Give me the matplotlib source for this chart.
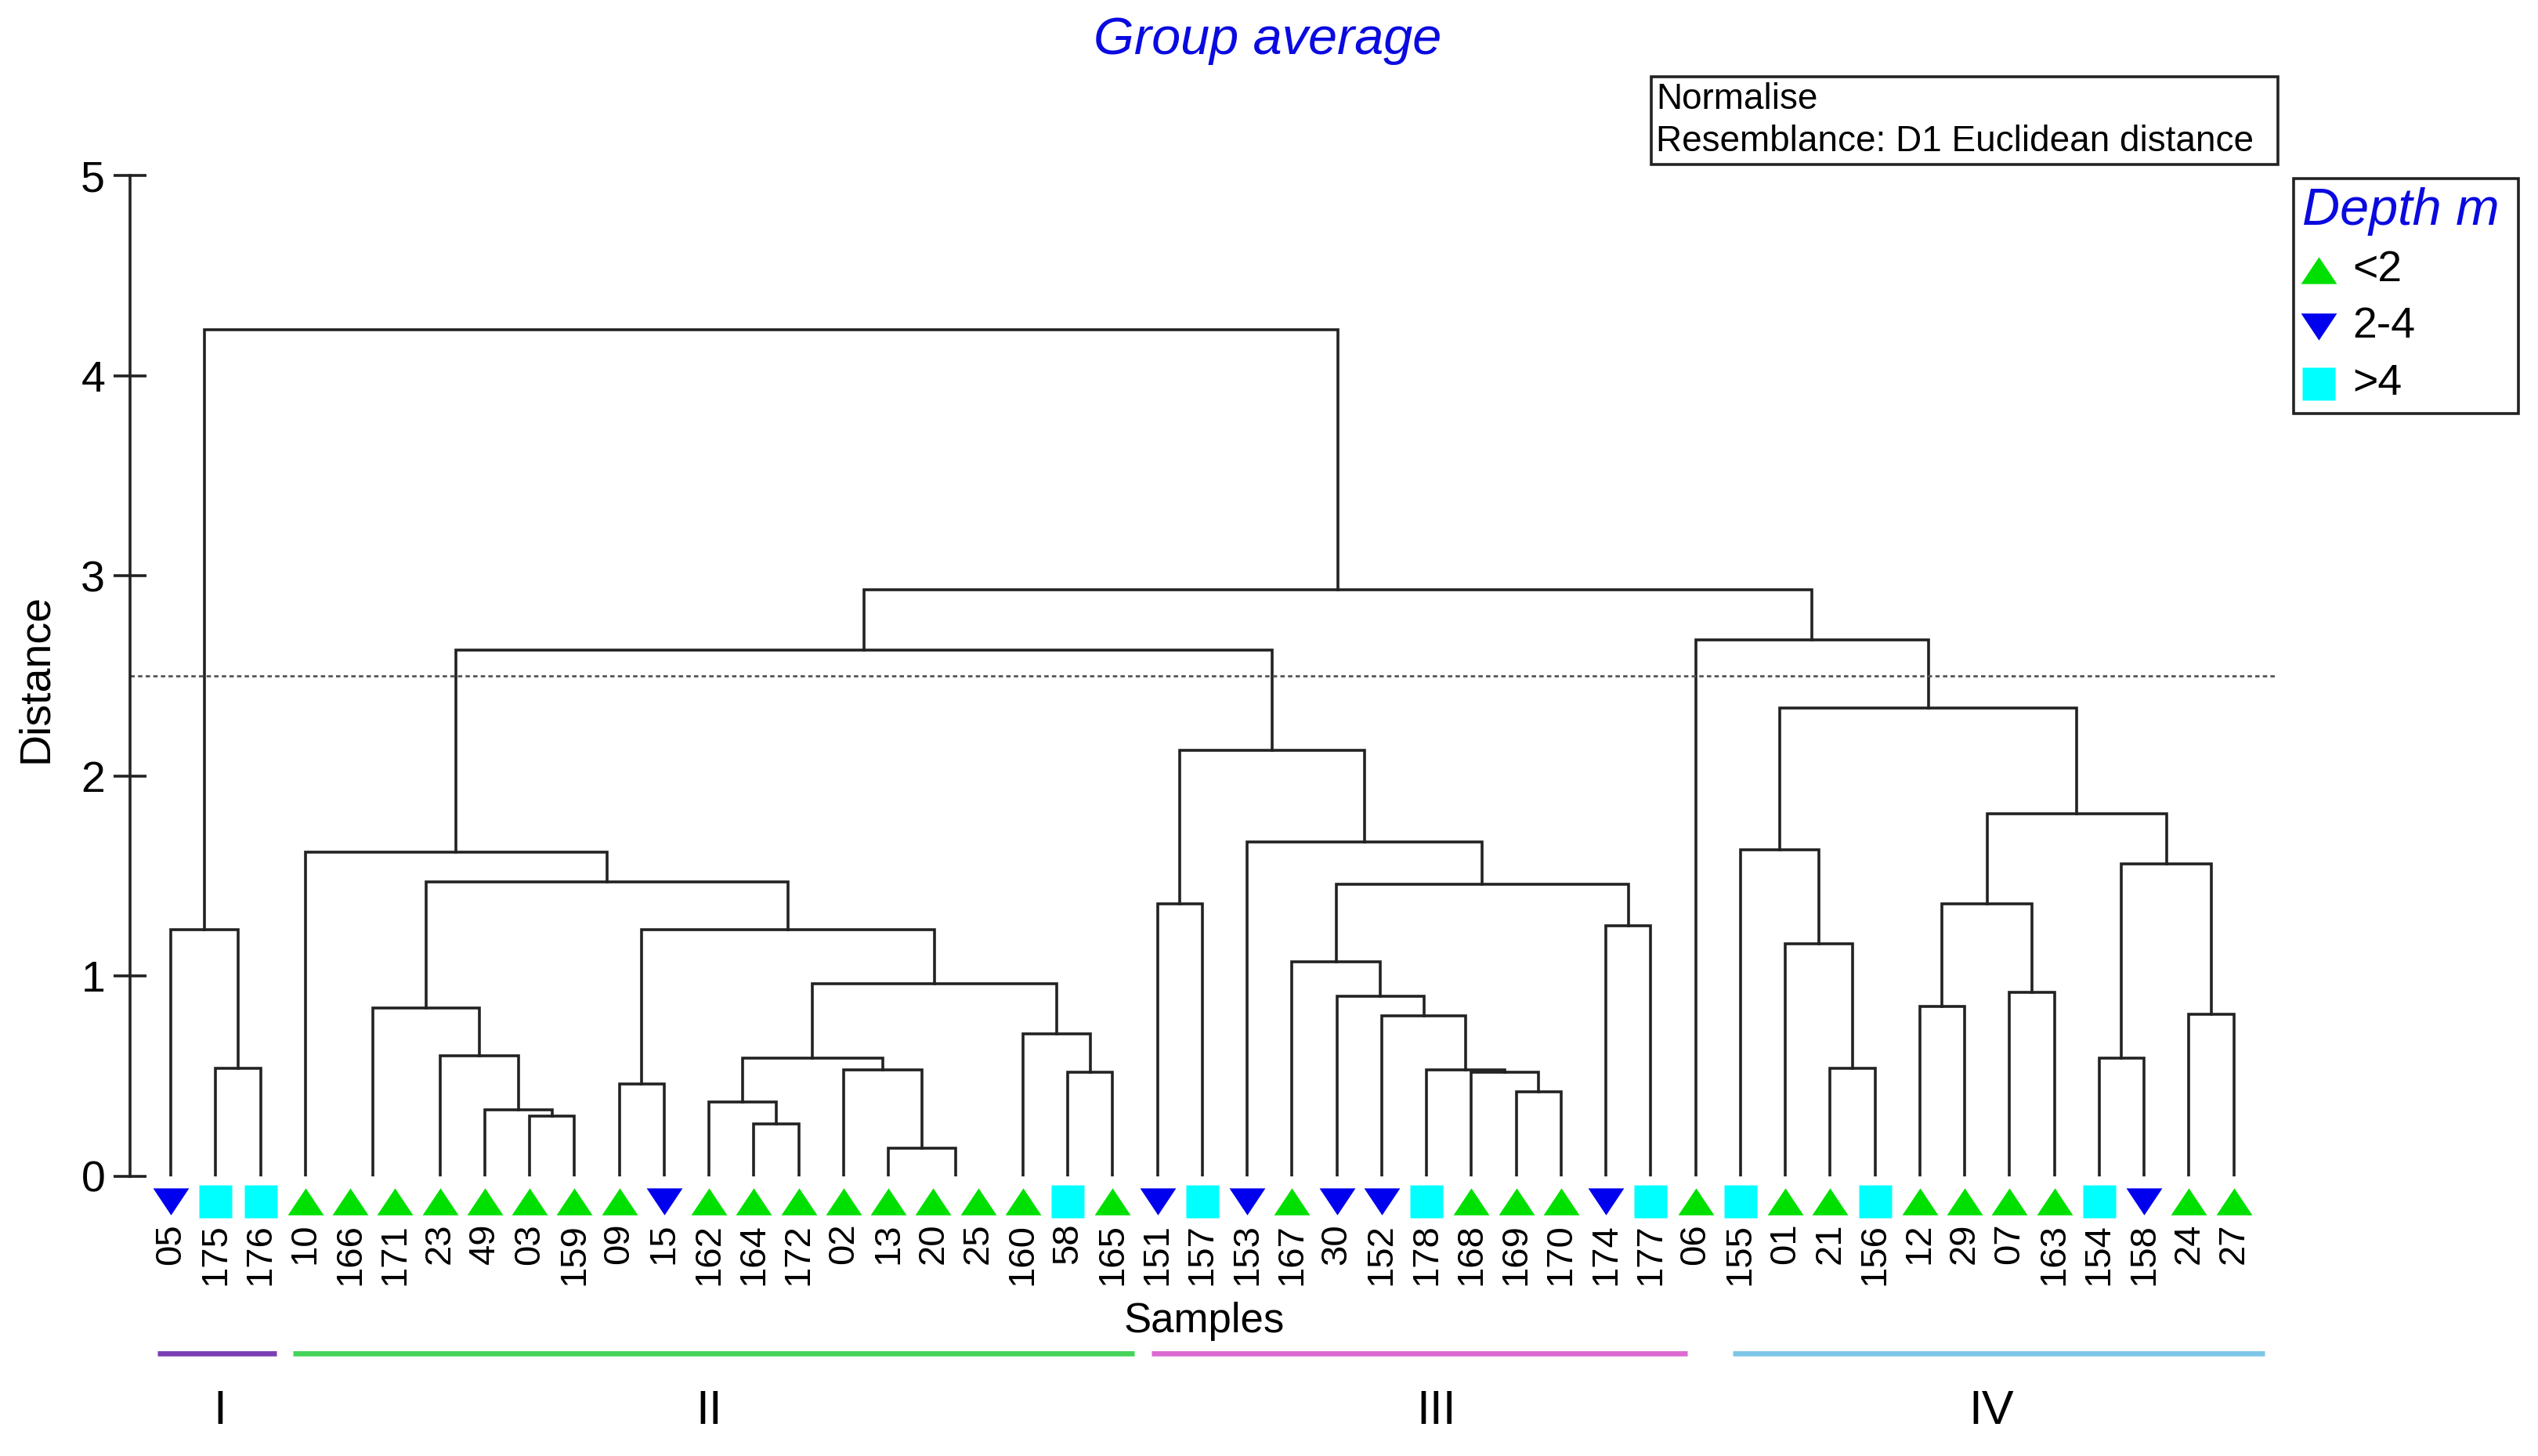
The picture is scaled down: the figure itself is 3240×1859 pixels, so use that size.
import matplotlib
matplotlib.use('Agg')
import matplotlib.pyplot as plt
from matplotlib.path import Path
from matplotlib.patches import Rectangle

plt.rcParams['font.family'] = ['Liberation Sans', 'DejaVu Sans']

# sample order along the dendrogram and their depth class
leaves = ['05', '175', '176', '10', '166', '171', '23', '49', '03', '159', '09', '15',
          '162', '164', '172', '02', '13', '20', '25', '160', '58', '165', '151', '157',
          '153', '167', '30', '152', '178', '168', '169', '170', '174', '177', '06', '155',
          '01', '21', '156', '12', '29', '07', '163', '154', '158', '24', '27']
depths = ['2-4', '>4', '>4', '<2', '<2', '<2', '<2', '<2', '<2', '<2', '<2', '2-4',
          '<2', '<2', '<2', '<2', '<2', '<2', '<2', '<2', '>4', '<2', '2-4', '>4',
          '2-4', '<2', '2-4', '2-4', '>4', '<2', '<2', '<2', '2-4', '>4', '<2', '>4',
          '<2', '<2', '>4', '<2', '<2', '<2', '<2', '>4', '2-4', '<2', '<2']

# merges: (left, right, distance); str = sample, int = earlier merge
merges = [
    ('175', '176', 0.54),   # 0
    ('05', 0, 1.23),        # 1
    ('166', '171', 0.0),    # 2
    ('03', '159', 0.30),    # 3
    ('49', 3, 0.33),        # 4
    ('23', 4, 0.60),        # 5
    (2, 5, 0.84),           # 6
    ('09', '15', 0.46),     # 7
    ('164', '172', 0.26),   # 8
    ('162', 8, 0.37),       # 9
    ('20', '25', 0.0),      # 10
    ('13', 10, 0.14),       # 11
    ('02', 11, 0.53),       # 12
    (9, 12, 0.59),          # 13
    ('58', '165', 0.52),    # 14
    ('160', 14, 0.71),      # 15
    (13, 15, 0.96),         # 16
    (7, 16, 1.23),          # 17
    (6, 17, 1.47),          # 18
    ('10', 18, 1.62),       # 19
    ('151', '157', 1.36),   # 20
    ('169', '170', 0.42),   # 21
    ('168', 21, 0.52),      # 22
    ('178', 22, 0.53),      # 23
    ('152', 23, 0.80),      # 24
    ('30', 24, 0.90),       # 25
    ('167', 25, 1.07),      # 26
    ('174', '177', 1.25),   # 27
    (26, 27, 1.46),         # 28
    ('153', 28, 1.67),      # 29
    (20, 29, 2.13),         # 30
    (19, 30, 2.63),         # 31
    ('21', '156', 0.54),    # 32
    ('01', 32, 1.16),       # 33
    ('155', 33, 1.63),      # 34
    ('12', '29', 0.85),     # 35
    ('07', '163', 0.92),    # 36
    (35, 36, 1.36),         # 37
    ('154', '158', 0.59),   # 38
    ('24', '27', 0.81),     # 39
    (38, 39, 1.56),         # 40
    (37, 40, 1.81),         # 41
    (34, 41, 2.34),         # 42
    ('06', 42, 2.68),       # 43
    (31, 43, 2.93),         # 44
    (1, 44, 4.23),          # 45
]
cut_level = 2.5
group_names = ['I', 'II', 'III', 'IV']
group_colors = ['#7b3fb3', '#45d35a', '#db6ad2', '#7ec6e8']

depth_classes = ['<2', '2-4', '>4']
depth_colors = {'<2': '#00e000', '2-4': '#0000ee', '>4': '#00ffff'}
up_tri = Path([(-1, -0.75), (1, -0.75), (0, 0.75), (-1, -0.75)])
down_tri = Path([(-1, 0.75), (1, 0.75), (0, -0.75), (-1, 0.75)])
depth_markers = {'<2': (up_tri, 16.5), '2-4': (down_tri, 16.5), '>4': ('s', 15)}

W, H = 1560, 895   # layout units
fig = plt.figure(figsize=(16.2, 9.295), dpi=200)

ax = fig.add_axes([80 / W, 1 - 723 / H, 1320 / W, 615 / H])
step = (1373 - 105) / 46
ax.set_xlim((80 - 105) / step, (1400 - 105) / step)
ax.set_ylim(0, 5)

leaf_x = {lab: i for i, lab in enumerate(leaves)}
node_x, node_h = {}, {}


def pos(n):
    if isinstance(n, str):
        return leaf_x[n], 0.0
    return node_x[n], node_h[n]


for k, (a, b, h) in enumerate(merges):
    xa, ha = pos(a)
    xb, hb = pos(b)
    if h > 0:
        ax.plot([xa, xa, xb, xb], [ha, h, h, hb], color='#222222', lw=1.3,
                solid_joinstyle='miter')
    node_x[k] = (xa + xb) / 2
    node_h[k] = h

ax.axhline(cut_level, color='#555555', lw=1.0, dashes=(2, 1.5))

# depth symbols and sample labels
for cls in depth_classes:
    xs = [i for i, d in enumerate(depths) if d == cls]
    m, ms = depth_markers[cls]
    ax.plot(xs, [-0.125] * len(xs), ls='none', marker=m, ms=ms,
            color=depth_colors[cls], mec='none', clip_on=False)
for i, lab in enumerate(leaves):
    ax.text(i, -0.235, lab, rotation=90, ha='center', va='top', fontsize=17,
            clip_on=False)

for s in ['top', 'right', 'bottom']:
    ax.spines[s].set_visible(False)
ax.spines['left'].set_linewidth(1.3)
ax.spines['left'].set_color('#222222')
ax.set_xticks([])
ax.set_yticks(range(6))
ax.tick_params(axis='y', direction='inout', length=15, width=1.3,
               color='#222222', labelsize=20, pad=4)

# overlay for annotations
ov = fig.add_axes([0, 0, 1, 1])
ov.set_xlim(0, W)
ov.set_ylim(H, 0)
ov.axis('off')

ov.text(779, 25, 'Group average', color='#0a0ae0', style='italic',
        fontsize=24, ha='center', va='center')
ov.text(22, 417, 'Distance', rotation=90, fontsize=20, ha='center', va='center')
ov.text(740, 812, 'Samples', fontsize=19, ha='center', va='center')

ov.add_patch(Rectangle((1015, 47), 385, 54, fill=False, lw=1.3, ec='#222222'))
ov.text(1018, 61, 'Normalise', fontsize=16.5, va='center', ha='left')
ov.text(1018, 87, 'Resemblance: D1 Euclidean distance', fontsize=16.5,
        va='center', ha='left')

ov.add_patch(Rectangle((1410, 110), 138, 144, fill=False, lw=1.3, ec='#222222'))
ov.text(1415, 130, 'Depth m', color='#0a0ae0', style='italic', fontsize=24,
        va='center', ha='left')
for j, cls in enumerate(depth_classes):
    y = 166 + 35 * j
    m, ms = depth_markers[cls]
    ov.plot([1425], [y], ls='none', marker=m, ms=ms, color=depth_colors[cls], mec='none')
    ov.text(1446, y, cls, fontsize=20, va='center', ha='left')

group_spans = [(97, 170), (180, 697), (708, 1037), (1065, 1392)]
label_x = [135, 436, 883, 1224]
for (x0, x1), lx, name, c in zip(group_spans, label_x, group_names, group_colors):
    ov.plot([x0, x1], [832, 832], color=c, lw=2.4, solid_capstyle='butt')
    ov.text(lx, 868, name, fontsize=22, ha='center', va='center')

fig.savefig('out.png', dpi=200, facecolor='white')
